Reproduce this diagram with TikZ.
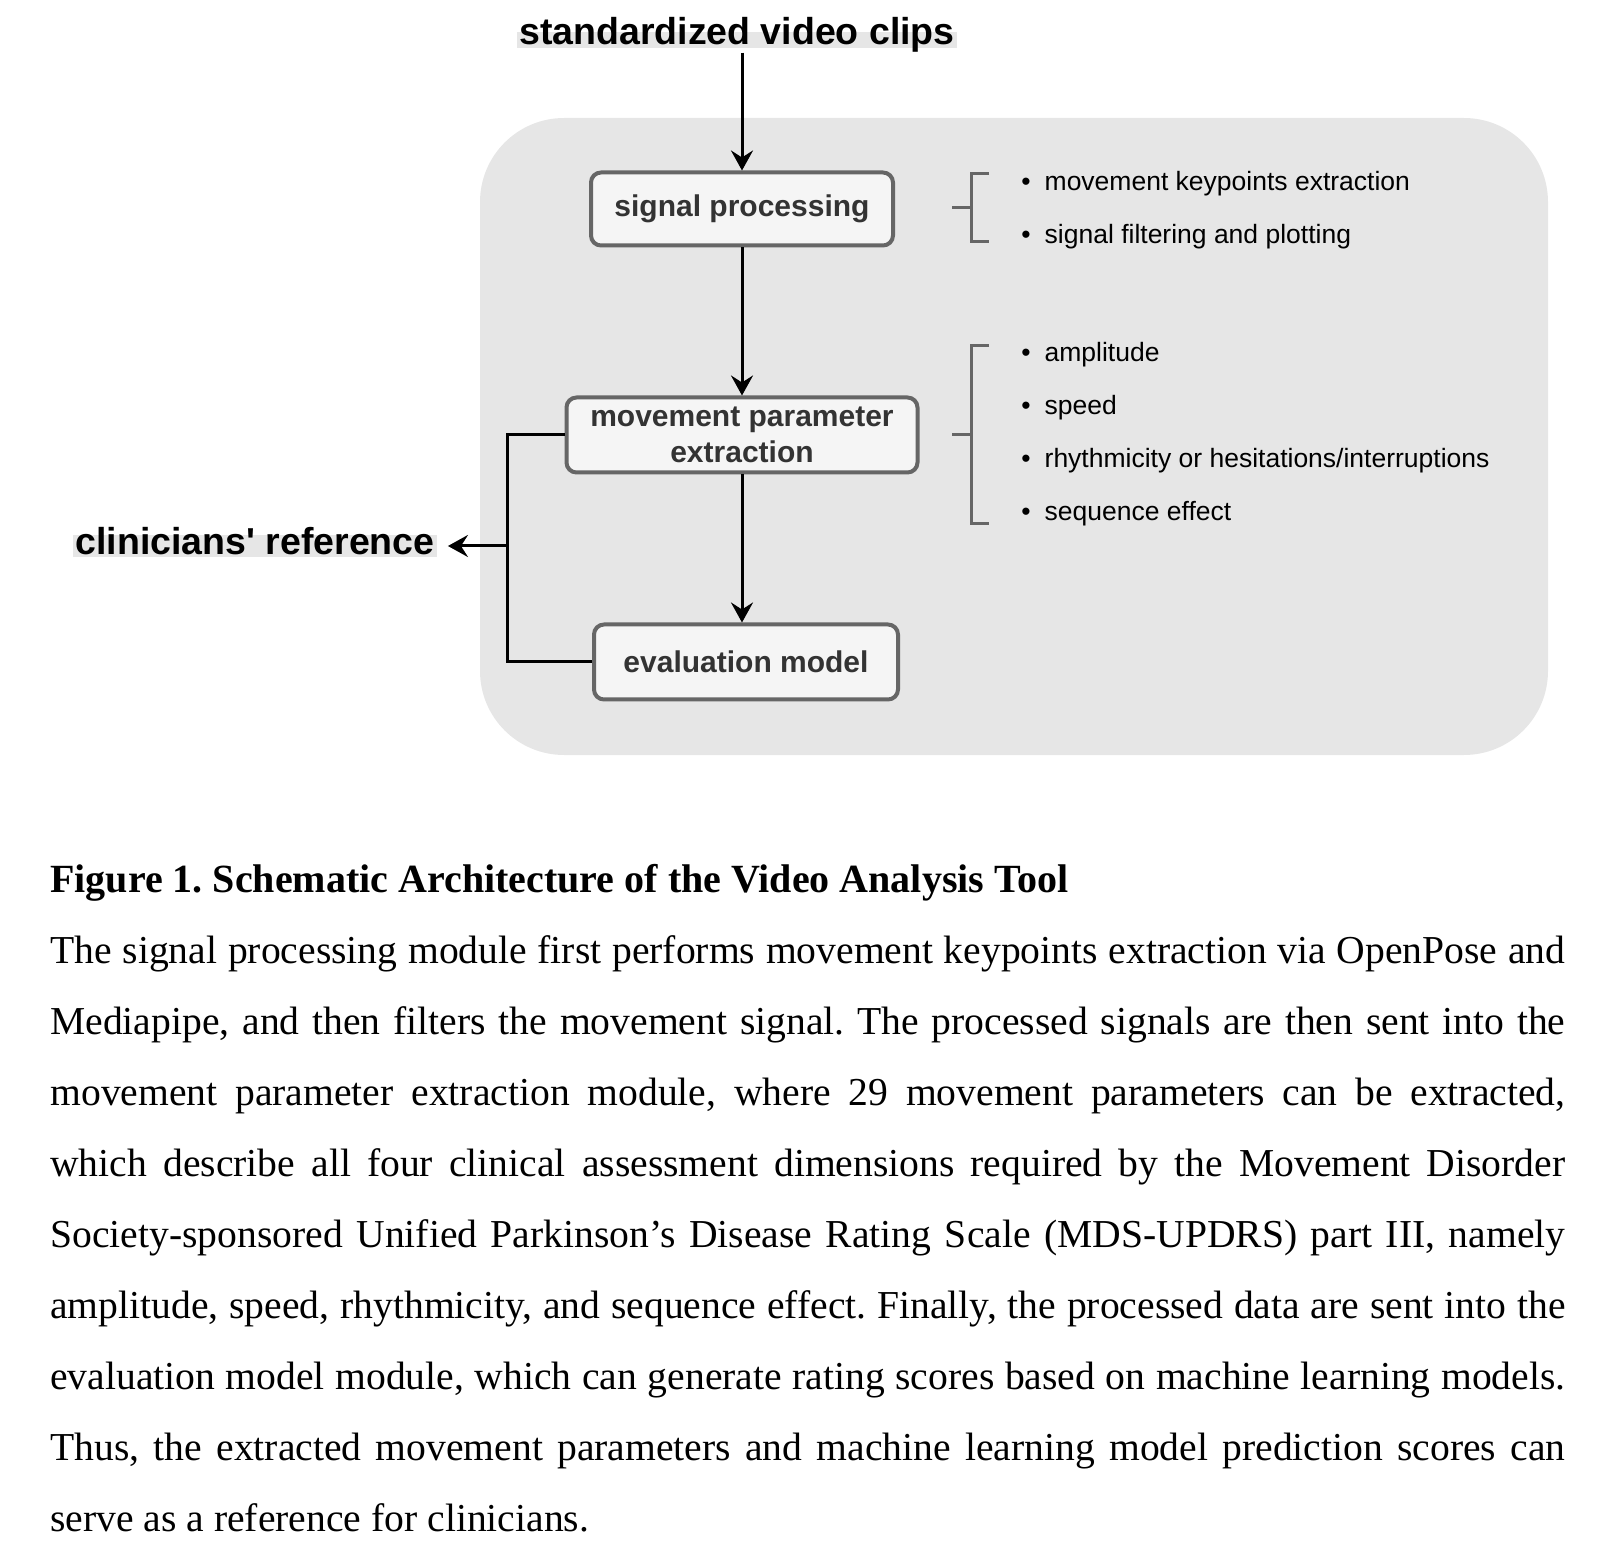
\documentclass[tikz,border=0pt]{standalone}
\usepackage{fontspec}
\setmainfont{Liberation Serif}
\setsansfont{Liberation Sans}
\usetikzlibrary{arrows.meta}
\frenchspacing

\definecolor{bggray}{RGB}{230,230,230}
\definecolor{boxfill}{RGB}{245,245,245}
\definecolor{boxline}{RGB}{102,102,102}
\definecolor{boxtext}{RGB}{51,51,51}

\begin{document}
\begin{tikzpicture}[x=0.5pt,y=0.5pt,yscale=-1,xscale=1,
  box/.style={draw=boxline,fill=boxfill,line width=2pt,rounded corners=5pt,
    text=boxtext,font=\sffamily\bfseries\fontsize{15pt}{18pt}\selectfont,
    align=center,inner sep=0pt},
  lbl/.style={fill=bggray,font=\sffamily\bfseries\fontsize{18.75pt}{20pt}\selectfont,
    inner xsep=1pt,inner ysep=0pt},
  itm/.style={anchor=west,inner sep=0pt,font=\sffamily\fontsize{13.25pt}{15pt}\selectfont},
  arr/.style={line width=1.5pt,-{Stealth[length=10pt,width=11pt,inset=3.5pt]}},
  conn/.style={line width=1.5pt},
  brk/.style={draw=boxline,line width=1.5pt},
  captxt/.style={anchor=base west,inner sep=0pt,font=\rmfamily\fontsize{19.8pt}{22pt}\selectfont}]
%set diagram left start at 0, and has height of 1556
\useasboundingbox (0,0) rectangle (1624,1556);

%Shape: Rounded Rect [id:background]
\fill[bggray,rounded corners=42pt] (480,118) rectangle (1548,755);

% Text Node
\draw (737,40) node [lbl,text height=0.66em,text depth=0.16em] (svc) {standardized video clips};
% Text Node
\draw (255,546) node [lbl,text height=0.96em,text depth=0.15em] (cr) {clinicians\textquotesingle{} reference};

%Shape: Rounded Rect [id:signal processing]
\draw (742,209) node [box,minimum width=151pt,minimum height=36.5pt] (sp) {signal processing};
%Shape: Rounded Rect [id:movement parameter extraction]
\draw (742,435) node [box,minimum width=175.5pt,minimum height=37.5pt] (mpe) {movement parameter\\extraction};
%Shape: Rounded Rect [id:evaluation model]
\draw (746,662) node [box,minimum width=152pt,minimum height=37.5pt] (em) {evaluation model};

%Straight Lines [id:arrows down]
\draw [arr] (svc.south -| sp.north) ++(0,4) -- (sp.north);
\draw [arr] (sp.south) -- (mpe.north);
\draw [arr] (mpe.south) -- (mpe.south |- em.north);

%Straight Lines [id:feedback]
\coordinate (jn) at (507,546);
\draw [conn] (mpe.west) -| (jn) |- (em.west);
\draw [arr,shorten >=5.5pt] (jn) -- (cr.east);

%Shape: Brackets
\draw [brk] (952,208) -- (971,208);
\draw [brk] (989,174) -- (971,174) -- (971,242) -- (989,242);
\draw [brk] (952,435) -- (971,435);
\draw [brk] (989,346) -- (971,346) -- (971,524) -- (989,524);

% Text Node
\draw (1021,184) node [itm] (k1) {\textbullet\hspace{7pt}movement keypoints extraction};
% Text Node
\draw (1021,237) node [itm] (k2) {\textbullet\hspace{7pt}signal filtering and plotting};
% Text Node
\draw (1021,355) node [itm] (p1) {\textbullet\hspace{7pt}amplitude};
% Text Node
\draw (1021,408) node [itm] (p2) {\textbullet\hspace{7pt}speed};
% Text Node
\draw (1021,461) node [itm] (p3) {\textbullet\hspace{7pt}rhythmicity or hesitations/interruptions};
% Text Node
\draw (1021,514) node [itm] (p4) {\textbullet\hspace{7pt}sequence effect};

% Text Node
\draw (50,892) node [captxt,font=\rmfamily\bfseries\fontsize{20pt}{22pt}\selectfont] (title) {Figure 1. Schematic Architecture of the Video Analysis Tool};
% Text Node
\draw (50,963) node [captxt] (l1) {\makebox[757.5pt][s]{The signal processing module first performs movement keypoints extraction via OpenPose and}};
\draw (50,1034) node [captxt] (l2) {\makebox[757.5pt][s]{Mediapipe, and then filters the movement signal. The processed signals are then sent into the}};
\draw (50,1105) node [captxt] (l3) {\makebox[757.5pt][s]{movement parameter extraction module, where 29 movement parameters can be extracted,}};
\draw (50,1176) node [captxt] (l4) {\makebox[757.5pt][s]{which describe all four clinical assessment dimensions required by the Movement Disorder}};
\draw (50,1247) node [captxt] (l5) {\makebox[757.5pt][s]{Society-sponsored Unified Parkinson’s Disease Rating Scale (MDS-UPDRS) part III, namely}};
\draw (50,1318) node [captxt] (l6) {\makebox[757.5pt][s]{amplitude, speed, rhythmicity, and sequence effect. Finally, the processed data are sent into the}};
\draw (50,1389) node [captxt] (l7) {\makebox[757.5pt][s]{evaluation model module, which can generate rating scores based on machine learning models.}};
\draw (50,1460) node [captxt] (l8) {\makebox[757.5pt][s]{Thus, the extracted movement parameters and machine learning model prediction scores can}};
\draw (50,1531) node [captxt] (l9) {serve as a reference for clinicians.};

\end{tikzpicture}
\end{document}
